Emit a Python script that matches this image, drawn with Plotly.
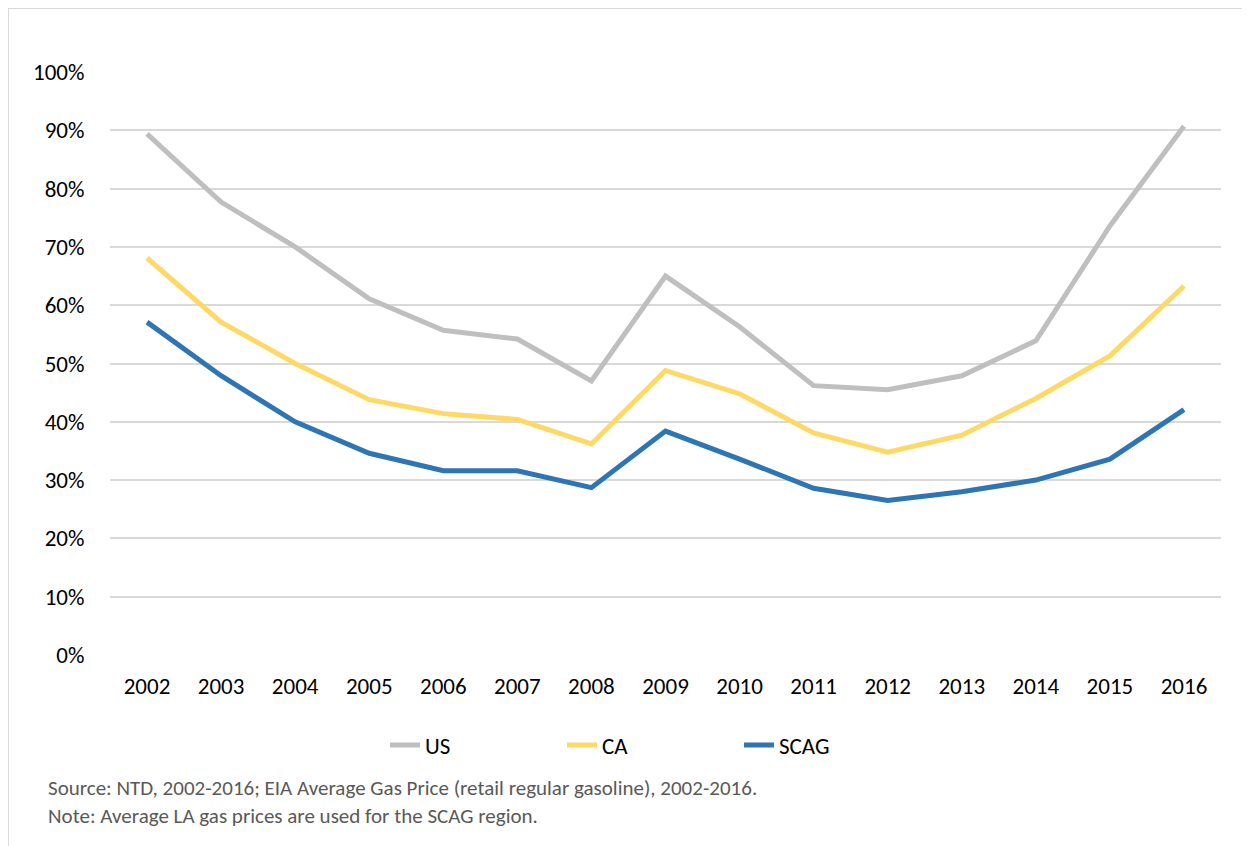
import plotly.graph_objects as go

years = [2002, 2003, 2004, 2005, 2006, 2007, 2008, 2009, 2010, 2011, 2012, 2013, 2014, 2015, 2016]
us = [0.894, 0.777, 0.700, 0.611, 0.557, 0.542, 0.470, 0.650, 0.563, 0.462, 0.455, 0.479, 0.539, 0.736, 0.907]
ca = [0.681, 0.571, 0.500, 0.438, 0.414, 0.404, 0.362, 0.488, 0.448, 0.381, 0.348, 0.377, 0.440, 0.513, 0.633]
scag = [0.571, 0.479, 0.400, 0.346, 0.316, 0.316, 0.287, 0.384, 0.336, 0.286, 0.265, 0.280, 0.300, 0.336, 0.421]

series = [("US", us, "#bfbfbf"), ("CA", ca, "#ffd966"), ("SCAG", scag, "#2e75b6")]
font_family = "Carlito, Calibri, Lato, 'Open Sans', sans-serif"

# page has an 8px body margin; compensate so the plot sits where the reference does
fig = go.Figure()
for name, vals, color in series:
    fig.add_trace(go.Scatter(x=years, y=vals, name=name, mode="lines",
                             line=dict(color=color, width=5)))

PH = 583.0  # plot height px
PW = 1111.0  # plot width px

fig.update_layout(
    width=1242, height=838,
    margin=dict(l=102, r=29, t=64, b=191, autoexpand=False),
    paper_bgcolor="white", plot_bgcolor="white",
    font=dict(family=font_family, size=23, color="#000000"),
    showlegend=True,
    legend=dict(orientation="h", x=(385 - 110) / PW, xanchor="left", y=-90 / PH, yanchor="middle",
                entrywidth=132, entrywidthmode="pixels", bgcolor="rgba(0,0,0,0)",
                font=dict(size=23, color="#000000")),
    xaxis=dict(range=[2001.5, 2016.5], tickmode="array", tickvals=years,
               ticktext=[str(y) for y in years], showgrid=False, zeroline=False,
               showline=False, ticks="outside", ticklen=10, tickcolor="rgba(0,0,0,0)",
               tickfont=dict(size=23), automargin=False),
    yaxis=dict(range=[-0.0001, 1.0001], tickvals=[i / 10 for i in range(11)],
               ticktext=[f"{i * 10}%" for i in range(11)], showgrid=True,
               gridcolor="#d9d9d9", gridwidth=1.5, zeroline=False, showline=False,
               ticks="outside", ticklen=20, tickcolor="rgba(0,0,0,0)",
               tickfont=dict(size=23), automargin=False),
)

# outer frame (top and left edges)
fx = (8 - 110) / PW
fy = 1 + (72 - 8) / PH
fig.add_shape(type="line", xref="paper", yref="paper", x0=fx, x1=1.1, y0=fy, y1=fy,
              line=dict(color="#d9d9d9", width=2))
fig.add_shape(type="line", xref="paper", yref="paper", x0=fx, x1=fx, y0=fy, y1=-0.4,
              line=dict(color="#d9d9d9", width=2))

fig.add_annotation(xref="paper", yref="paper", x=(46 - 110) / PW, y=-(788 - 655) / PH,
                   xanchor="left", yanchor="middle",
                   text="Source: NTD, 2002-2016; EIA Average Gas Price (retail regular gasoline), 2002-2016.",
                   showarrow=False, font=dict(size=21, color="#595959"))
fig.add_annotation(xref="paper", yref="paper", x=(46 - 110) / PW, y=-(816 - 655) / PH,
                   xanchor="left", yanchor="middle",
                   text="Note: Average LA gas prices are used for the SCAG region.",
                   showarrow=False, font=dict(size=21, color="#595959"))

fig.write_html("out.html")
